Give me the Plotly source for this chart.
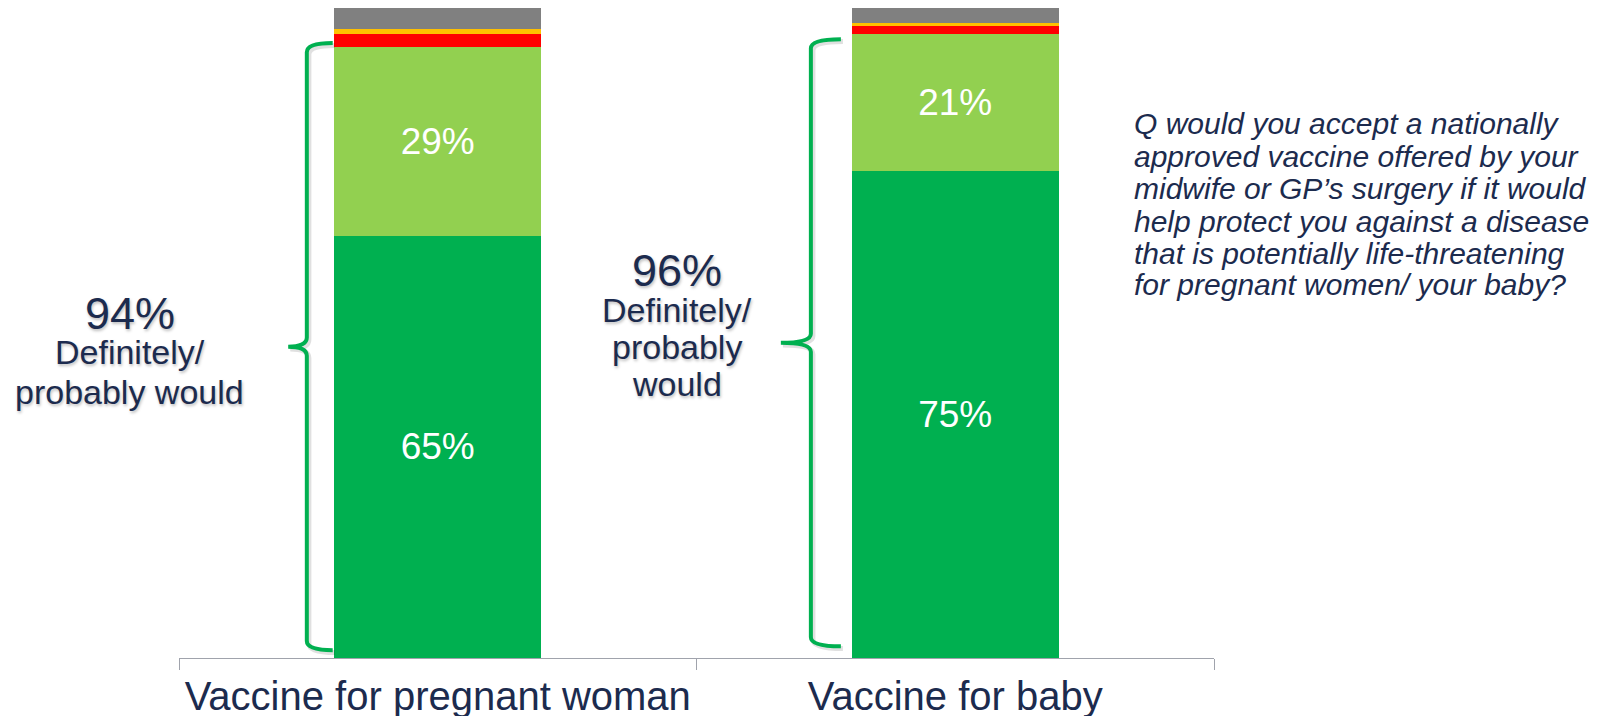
import plotly.graph_objects as go

# Survey responses: share of respondents per answer, per vaccine
categories = ["Vaccine for pregnant woman", "Vaccine for baby"]
definitely_would = [65, 75]
probably_would = [29, 21]
probably_not = [2.0, 1.2]
definitely_not = [0.8, 0.5]
dont_know = [3.2, 2.3]

combined_pct = [94, 96]
combined_caption = ["Definitely/", "probably would"]

question_lines = [
    "Q would you accept a nationally",
    "approved vaccine offered by your",
    "midwife or GP\u2019s surgery if it would",
    "help protect you against a disease",
    "that is potentially life-threatening",
    "for pregnant women/ your baby?",
]

NAVY = "#1C2B4E"
FONT = "Liberation Sans, Arial, sans-serif"

segments = [
    (definitely_would, "#00B050", True),
    (probably_would, "#92D050", True),
    (probably_not, "#FF0000", False),
    (definitely_not, "#FFC000", False),
    (dont_know, "#808080", False),
]

fig = go.Figure()
for values, colour, labelled in segments:
    fig.add_trace(go.Bar(
        x=categories,
        y=values,
        width=0.4,
        marker=dict(color=colour, line=dict(width=0)),
        text=[f"{v}%" for v in values] if labelled else None,
        textposition="inside" if labelled else "none",
        insidetextanchor="middle",
        textfont=dict(family=FONT, size=37, color="white"),
        hoverinfo="skip",
    ))

# Curly brackets spanning the "definitely + probably" block of each bar
bracket_spans = [  # (vertical x, tip x, end x, bottom y, top y)
    (-0.253, -0.289, -0.203, 1.2, 94.6),
    (0.721, 0.663, 0.779, 1.8, 95.2),
]


def bracket_path(vx, tx, ex, y0, y1, dx=0.0, dy=0.0):
    mid = (y0 + y1) / 2
    r = 1.4
    vx, tx, ex = vx + dx, tx + dx, ex + dx
    y0, y1, mid = y0 + dy, y1 + dy, mid + dy
    return (
        f"M {ex},{y1} Q {vx},{y1} {vx},{y1 - r} "
        f"L {vx},{mid + r} Q {vx},{mid} {tx},{mid} "
        f"Q {vx},{mid} {vx},{mid - r} "
        f"L {vx},{y0 + r} Q {vx},{y0} {ex},{y0}"
    )


for vx, tx, ex, y0, y1 in bracket_spans:
    fig.add_shape(type="path", xref="x", yref="y",
                  path=bracket_path(vx, tx, ex, y0, y1, dx=0.004, dy=-0.35),
                  line=dict(color="rgba(0,0,0,0.12)", width=5), layer="above")
    fig.add_shape(type="path", xref="x", yref="y",
                  path=bracket_path(vx, tx, ex, y0, y1),
                  line=dict(color="#00B050", width=4), layer="above")

shadow = "1px 2px 3px rgba(0,0,0,0.25)"


def x_paper(xd):
    # category axis spans [-0.5, 1.5]
    return (xd + 0.5) / 2.0


# Combined totals next to each bracket
total_blocks = [
    (-0.595, [53.0, 47.1, 41.0], [f"{combined_pct[0]}%"] + combined_caption),
    (0.462, [59.6, 53.6, 47.8, 42.2],
     [f"{combined_pct[1]}%", combined_caption[0], "probably", "would"]),
]
for xpos, ys, lines in total_blocks:
    for i, (yv, txt) in enumerate(zip(ys, lines)):
        fig.add_annotation(
            x=x_paper(xpos), y=yv, xref="paper", yref="y", text=txt,
            showarrow=False, xanchor="center", yanchor="middle",
            font=dict(family=FONT, size=45 if i == 0 else 34, color=NAVY,
                      shadow=shadow),
        )

# Question text on the right
question_y = [82.2, 77.2, 72.2, 67.2, 62.2, 57.4]
for yv, line in zip(question_y, question_lines):
    fig.add_annotation(
        x=x_paper(1.342), y=yv, xref="paper", yref="y", text=line,
        showarrow=False, xanchor="left", yanchor="middle",
        font=dict(family=FONT, size=30, color=NAVY, style="italic"),
    )

fig.update_layout(
    width=1604, height=716,
    margin=dict(l=179, r=390, t=8, b=58, pad=0, autoexpand=False),
    barmode="stack",
    bargap=0.6,
    showlegend=False,
    plot_bgcolor="white",
    paper_bgcolor="white",
    hovermode=False,
)
fig.update_xaxes(
    type="category",
    range=[-0.5, 1.5],
    automargin=False,
    showline=True, linecolor="#A0A3AC", linewidth=1,
    ticks="outside", tickson="boundaries", ticklen=11, tickcolor="#A0A3AC",
    tickfont=dict(family=FONT, size=40, color=NAVY),
    ticklabelstandoff=3,
    showgrid=False, zeroline=False,
)
fig.update_yaxes(range=[0, 100], visible=False, showgrid=False,
                 automargin=False)

fig.write_html("out.html")
